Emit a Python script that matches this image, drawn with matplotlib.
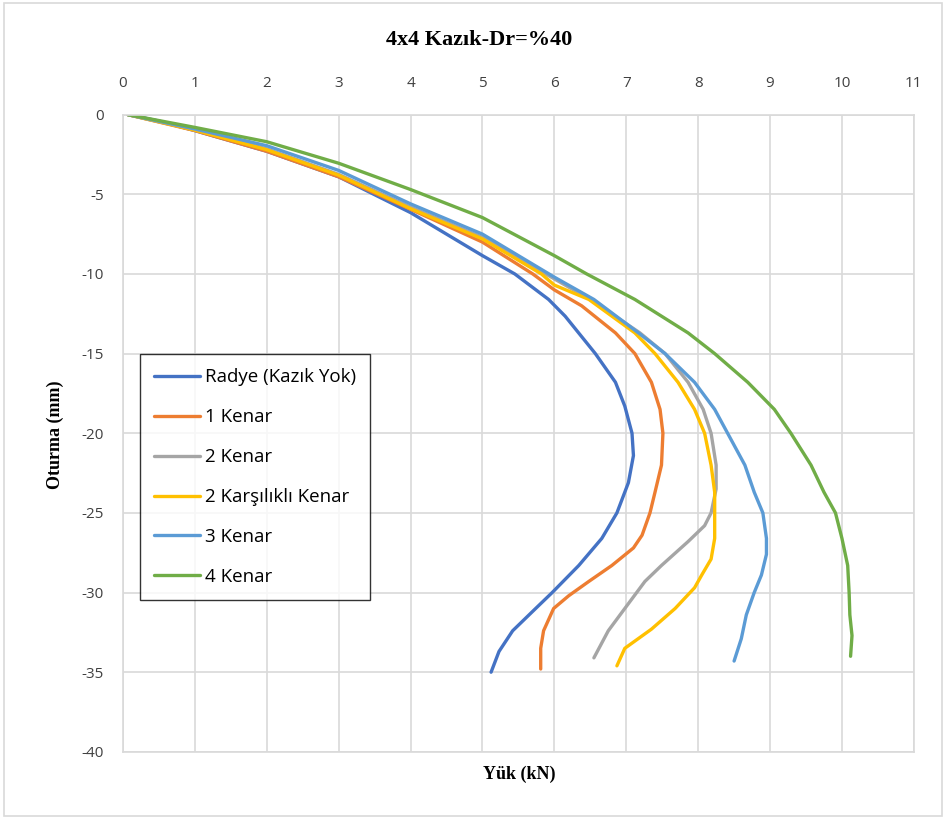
import matplotlib.pyplot as plt
from matplotlib.patches import Rectangle

plt.rcParams["axes.unicode_minus"] = False

# === DATA ===
radye_x = [0.07, 0.5, 1.0, 2.0, 3.0, 4.0, 5.0, 5.45, 5.92, 6.15, 6.57, 6.85, 6.98, 7.08,
           7.10, 7.03, 6.87, 6.66, 6.34, 5.97, 5.74, 5.42, 5.23, 5.12]
radye_y = [0, -0.4, -1.0, -2.3, -3.9, -6.15, -8.85, -10.0, -11.6, -12.65, -15.0, -16.8, -18.3, -20.0,
           -21.4, -23.1, -25.0, -26.6, -28.3, -30.0, -31.0, -32.4, -33.7, -35.0]

kenar1_x = [0.07, 1.0, 2.0, 3.0, 4.0, 5.0, 5.7, 6.0, 6.38, 6.85, 7.12, 7.35, 7.47, 7.51, 7.49,
            7.40, 7.33, 7.22, 7.10, 6.80, 6.48, 6.20, 5.99, 5.85, 5.81, 5.81]
kenar1_y = [0, -1.0, -2.3, -3.9, -5.94, -8.0, -10.0, -11.0, -12.0, -13.7, -15.0, -16.8, -18.5, -20.0, -22.0,
            -23.7, -25.0, -26.4, -27.2, -28.3, -29.3, -30.2, -31.0, -32.4, -33.5, -34.8]

kenar2_x = [0.07, 1.0, 2.0, 3.0, 4.0, 5.0, 5.88, 6.5, 7.19, 7.54, 7.86, 8.07, 8.18, 8.25, 8.25,
            8.18, 8.09, 7.86, 7.49, 7.26, 6.98, 6.75, 6.55]
kenar2_y = [0, -0.95, -2.15, -3.75, -5.8, -7.7, -10.0, -11.6, -13.7, -15.0, -16.8, -18.5, -20.0, -22.0, -23.5,
            -25.0, -25.8, -26.8, -28.3, -29.3, -31.0, -32.4, -34.1]

karsilikli_x = [0.07, 1.0, 2.0, 3.0, 4.0, 5.0, 5.82, 6.0, 6.48, 7.12, 7.40, 7.72, 7.95, 8.09, 8.18,
                8.23, 8.23, 8.23, 8.18, 8.05, 7.95, 7.68, 7.35, 6.98, 6.87]
karsilikli_y = [0, -0.97, -2.2, -3.8, -5.9, -7.8, -10.0, -10.7, -11.6, -13.7, -15.0, -16.8, -18.5, -20.0, -22.0,
                -23.7, -25.0, -26.6, -27.9, -28.9, -29.7, -31.0, -32.3, -33.5, -34.6]

kenar3_x = [0.07, 1.0, 2.0, 3.0, 4.0, 5.0, 6.0, 6.55, 7.17, 7.54, 7.95, 8.23, 8.41, 8.65,
            8.78, 8.90, 8.95, 8.95, 8.88, 8.78, 8.67, 8.60, 8.50]
kenar3_y = [0, -0.9, -1.95, -3.5, -5.6, -7.5, -10.2, -11.6, -13.7, -15.0, -16.8, -18.5, -20.0, -22.0,
            -23.7, -25.0, -26.6, -27.6, -28.9, -30.0, -31.4, -32.9, -34.3]

kenar4_x = [0.07, 1.0, 2.0, 3.0, 4.0, 5.0, 6.0, 6.45, 7.12, 7.86, 8.23, 8.69, 9.06, 9.29, 9.57,
            9.75, 9.91, 10.0, 10.08, 10.10, 10.11, 10.14, 10.12]
kenar4_y = [0, -0.8, -1.7, -3.05, -4.7, -6.46, -8.85, -10.0, -11.6, -13.7, -15.0, -16.8, -18.5, -20.0, -22.0,
            -23.7, -25.0, -26.6, -28.3, -30.0, -31.4, -32.7, -34.0]

series = [
    ("Radye (Kazık Yok)", radye_x, radye_y, "#4472C4"),
    ("1 Kenar", kenar1_x, kenar1_y, "#ED7D31"),
    ("2 Kenar", kenar2_x, kenar2_y, "#A5A5A5"),
    ("2 Karşılıklı Kenar", karsilikli_x, karsilikli_y, "#FFC000"),
    ("3 Kenar", kenar3_x, kenar3_y, "#5B9BD5"),
    ("4 Kenar", kenar4_x, kenar4_y, "#70AD47"),
]

# === FIGURE ===
fig = plt.figure(figsize=(9.46, 8.19), dpi=100)
ax = fig.add_axes([0.130, 0.082, 0.836, 0.778])

for label, xs, ys, color in series:
    ax.plot(xs, ys, color=color, lw=2.4, label=label, solid_capstyle="round")

ax.set_xlim(0, 11)
ax.set_ylim(-40, 0)
ax.set_xticks(range(0, 12))
ax.set_yticks(range(-40, 1, 5))
ax.xaxis.tick_top()
ax.tick_params(length=0, labelsize=11, colors="#404040")
ax.tick_params(axis="x", pad=17)
ax.tick_params(axis="y", pad=14)
for t in ax.get_xticklabels() + ax.get_yticklabels():
    t.set_fontfamily("Open Sans")
ax.grid(True, color="#d9d9d9", lw=1.2)
for s in ax.spines.values():
    s.set_color("#d9d9d9")
    s.set_linewidth(1.2)

fig.text(0.507, 0.951, "4x4 Kazık-Dr=%40", ha="center", va="center",
         fontfamily="Liberation Serif", fontweight="bold", fontsize=16)
fig.text(0.549, 0.054, "Yük (kN)", ha="center", va="center",
         fontfamily="Liberation Serif", fontweight="bold", fontsize=13)
fig.text(0.058, 0.469, "Oturma (mm)", ha="center", va="center", rotation=90,
         fontfamily="Liberation Serif", fontweight="bold", fontsize=13)

leg = ax.legend(loc="upper left", bbox_to_anchor=(0.0215, 0.624), frameon=True,
                fancybox=False, handlelength=2.45, handletextpad=0.25,
                labelspacing=1.17, borderpad=0.75, borderaxespad=0,
                prop={"family": "Open Sans", "size": 13.5})
leg.get_frame().set_edgecolor("black")
leg.get_frame().set_linewidth(1.0)

# outer chart border
fig.patches.append(Rectangle((0.004, 0.004), 0.992, 0.992, transform=fig.transFigure,
                             fill=False, edgecolor="#d9d9d9", lw=1.2))

fig.savefig("out.png", dpi=100)
